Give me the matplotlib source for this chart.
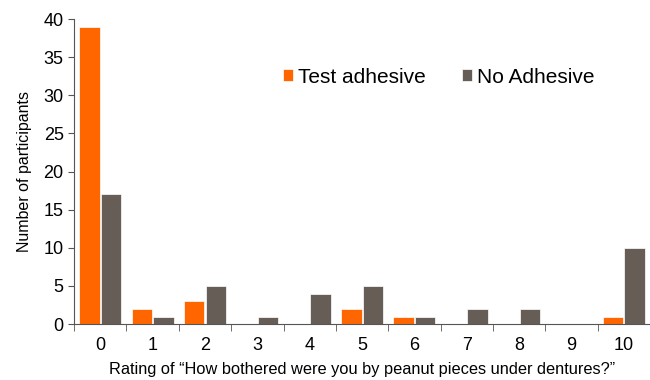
import numpy as np
import matplotlib
matplotlib.use('Agg')
import matplotlib.pyplot as plt

plt.rcParams['font.family'] = ['Liberation Sans', 'DejaVu Sans']

ratings = ['0', '1', '2', '3', '4', '5', '6', '7', '8', '9', '10']
test_adhesive = [39, 2, 3, 0, 0, 2, 1, 0, 0, 0, 1]
no_adhesive = [17, 1, 5, 1, 4, 5, 1, 2, 2, 0, 10]

orange = '#FF6600'
grey = '#655D56'

fig, ax = plt.subplots(figsize=(6.5, 3.8), dpi=100)
fig.subplots_adjust(left=0.114, right=1.0, bottom=0.147, top=0.95)

x = np.arange(len(ratings))
w = 0.39
ax.bar(x - w / 2 - 0.01, test_adhesive, w, color=orange, edgecolor='white', linewidth=0.5,
       label='Test adhesive')
ax.bar(x + w / 2 + 0.01, no_adhesive, w, color=grey, edgecolor='white', linewidth=0.5,
       label='No Adhesive')

ax.set_xlim(-0.5, len(ratings) - 0.5)
ax.set_ylim(0, 40)
ax.set_yticks(range(0, 41, 5))
ax.set_xticks(x)
ax.set_xticklabels(ratings, fontsize=13)
ax.tick_params(axis='x', length=0, pad=9)
ax.set_xticks(np.arange(-0.5, len(ratings), 1), minor=True)
ax.tick_params(axis='x', which='minor', length=5, direction='out', color='#555555')
ax.tick_params(axis='y', labelsize=13, length=4, direction='out', color='#555555')

for s in ['top', 'right']:
    ax.spines[s].set_visible(False)
ax.spines['left'].set_color('#555555')
ax.spines['bottom'].set_color('#555555')

ax.set_ylabel('Number of participants', fontsize=11.5, labelpad=8)
ax.set_xlabel('Rating of \u201cHow bothered were you by peanut pieces under dentures?\u201d',
              fontsize=11.8, labelpad=6)

ax.legend(loc='center left', bbox_to_anchor=(0.435, 0.797), bbox_transform=fig.transFigure,
          ncol=2, frameon=False, borderpad=0, borderaxespad=0,
          fontsize=15, handlelength=0.5, handleheight=0.5, handletextpad=0.25,
          columnspacing=1.7)

plt.savefig('out.png', dpi=100)
